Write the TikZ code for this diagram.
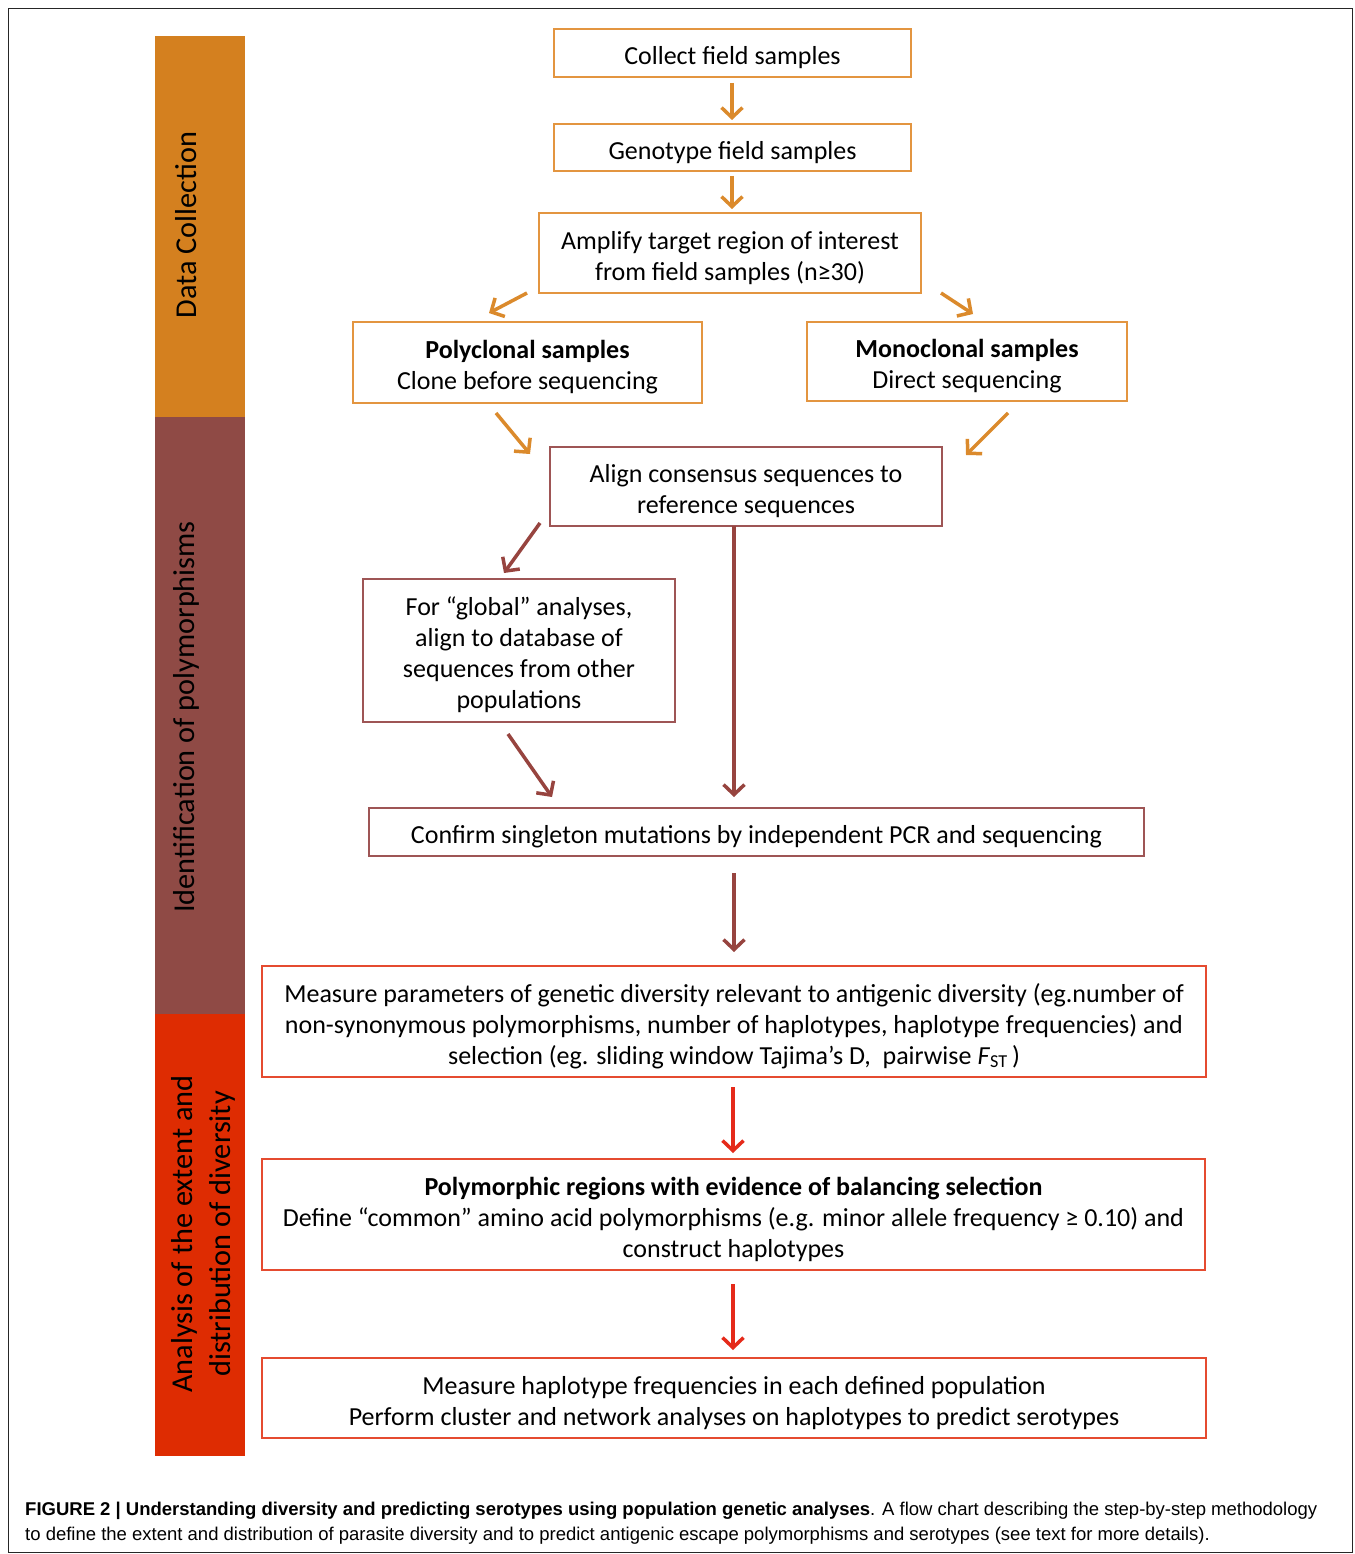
\documentclass[tikz,border=0pt]{standalone}
\usepackage{fontspec}
\setmainfont{Carlito}
\newfontfamily\capfont{Liberation Sans}
\usetikzlibrary{arrows.meta}
\newcommand{\fstrut}{\rule{0pt}{27.5pt}}
\definecolor{dcOrange}{HTML}{D4801F}
\definecolor{dcBrown}{HTML}{8F4A45}
\definecolor{dcRed}{HTML}{DE2C02}
\definecolor{bOrange}{HTML}{E39540}
\definecolor{bBrown}{HTML}{9E5555}
\definecolor{bRed}{HTML}{E54B30}
\definecolor{aOrange}{HTML}{DB8A2C}
\definecolor{aBrown}{HTML}{97443F}
\definecolor{aRed}{HTML}{E52A1A}
\tikzset{
  box/.style={draw, line width=1.8pt, fill=white, inner sep=0pt, align=center,
    font=\fontsize{26}{31}\selectfont},
  obox/.style={box, draw=bOrange},
  bbox/.style={box, draw=bBrown},
  rbox/.style={box, draw=bRed},
  arr/.style={line width=3.5pt, -{Straight Barb[length=10pt,width=21pt,line width=3.5pt]}},
  oarr/.style={arr, draw=aOrange},
  barr/.style={arr, draw=aBrown},
  rarr/.style={arr, draw=aRed},
  sidebar/.style={inner sep=0pt, minimum width=90pt},
  sidelabel/.style={rotate=90, font=\fontsize{30.3}{38}\selectfont, align=center, inner sep=0pt},
  captext/.style={anchor=base west, inner sep=0pt, font=\capfont\fontsize{18.5}{22}\selectfont}
}
\begin{document}
\begin{tikzpicture}[x=1pt,y=-1pt]
\useasboundingbox (0,0) rectangle (1354,1554);
\fill[white] (0,0) rectangle (1354,1554);
\draw[line width=1.2pt, black!85] (8.5,8.5) rectangle (1352.5,1552.5);

% side bars
\node[sidebar, fill=dcOrange, minimum height=381pt] (barA) at (200,226.5) {};
\node[sidebar, fill=dcBrown, minimum height=597pt] (barB) at (200,715.5) {};
\node[sidebar, fill=dcRed, minimum height=442pt] (barC) at (200,1235) {};
\node[sidelabel] (labA) at (186,225) {Data Collection};
\node[sidelabel] (labB) at (186,717) {Identification of polymorphisms};
\node[sidelabel] (labC) at (203,1234) {Analysis of the extent and\\distribution of diversity};

% boxes
\node[obox, minimum width=357pt, minimum height=48pt] (coll) at (732.5,53) {\fstrut Collect field samples};
\node[obox, minimum width=357pt, minimum height=47pt] (geno) at (732.5,147.5) {\fstrut Genotype field samples};
\node[obox, minimum width=382pt, minimum height=80pt] (ampl) at (730,253) {\fstrut Amplify target region of interest\\from field samples (n≥30)};
\node[obox, minimum width=349pt, minimum height=81pt] (poly) at (527.5,362.5) {\fstrut\textbf{Polyclonal samples}\\Clone before sequencing};
\node[obox, minimum width=320pt, minimum height=79pt] (mono) at (967,361.5) {\fstrut\textbf{Monoclonal samples}\\Direct sequencing};
\node[bbox, minimum width=392pt, minimum height=79pt] (align) at (746,486.5) {\fstrut Align consensus sequences to\\reference sequences};
\node[bbox, minimum width=312pt, minimum height=143pt] (glob) at (519,650.5) {\fstrut For “global” analyses,\\align to database of\\sequences from other\\populations};
\node[bbox, minimum width=775pt, minimum height=48pt] (conf) at (756.5,832) {\fstrut Confirm singleton mutations by independent PCR and sequencing};
\node[rbox, minimum width=944pt, minimum height=111pt] (meas) at (734,1021.5) {\fstrut Measure parameters of genetic diversity relevant to antigenic diversity (eg.number of\\non-synonymous polymorphisms, number of haplotypes, haplotype frequencies) and\\selection (eg. sliding window Tajima’s D,\ \ pairwise \textit{F}\textsubscript{ST}\,)};
\node[rbox, minimum width=943pt, minimum height=111pt] (pmr) at (733.5,1214.5) {\fstrut\textbf{Polymorphic regions with evidence of balancing selection}\\Define “common” amino acid polymorphisms (e.g. minor allele frequency ≥ 0.10) and\\construct haplotypes};
\node[rbox, minimum width=944pt, minimum height=80pt] (hap) at (734,1398) {\fstrut Measure haplotype frequencies in each defined population\\Perform cluster and network analyses on haplotypes to predict serotypes};

% arrow end points
\coordinate (a1s) at (732,83);   \coordinate (a1e) at (732,120);
\coordinate (a2s) at (732,176);  \coordinate (a2e) at (732,209);
\coordinate (a3s) at (527,293);  \coordinate (a3e) at (489,313);
\coordinate (a4s) at (941,293);  \coordinate (a4e) at (973,314);
\coordinate (a5s) at (496,413);  \coordinate (a5e) at (530,454);
\coordinate (a6s) at (1008,413); \coordinate (a6e) at (966,455);
\coordinate (a7s) at (540,523);  \coordinate (a7e) at (504,573);
\coordinate (a8s) at (734,526);  \coordinate (a8e) at (734,797);
\coordinate (a9s) at (508,734);  \coordinate (a9e) at (552,797);
\coordinate (a10s) at (734,873); \coordinate (a10e) at (734,952);
\coordinate (a11s) at (733,1087); \coordinate (a11e) at (733,1153);
\coordinate (a12s) at (733,1284); \coordinate (a12e) at (733,1350);

\draw[oarr] (a1s) -- (a1e);
\draw[oarr] (a2s) -- (a2e);
\draw[oarr] (a3s) -- (a3e);
\draw[oarr] (a4s) -- (a4e);
\draw[oarr] (a5s) -- (a5e);
\draw[oarr] (a6s) -- (a6e);
\draw[barr] (a7s) -- (a7e);
\draw[barr] (a8s) -- (a8e);
\draw[barr] (a9s) -- (a9e);
\draw[barr] (a10s) -- (a10e);
\draw[rarr] (a11s) -- (a11e);
\draw[rarr] (a12s) -- (a12e);

% caption
\node[captext] (cap1) at (25,1515) {\textbf{FIGURE 2 | Understanding diversity and predicting serotypes using population genetic analyses}. A flow chart describing the step-by-step methodology};
\node[captext] (cap2) at (25,1540) {to define the extent and distribution of parasite diversity and to predict antigenic escape polymorphisms and serotypes (see text for more details).};
\end{tikzpicture}
\end{document}
